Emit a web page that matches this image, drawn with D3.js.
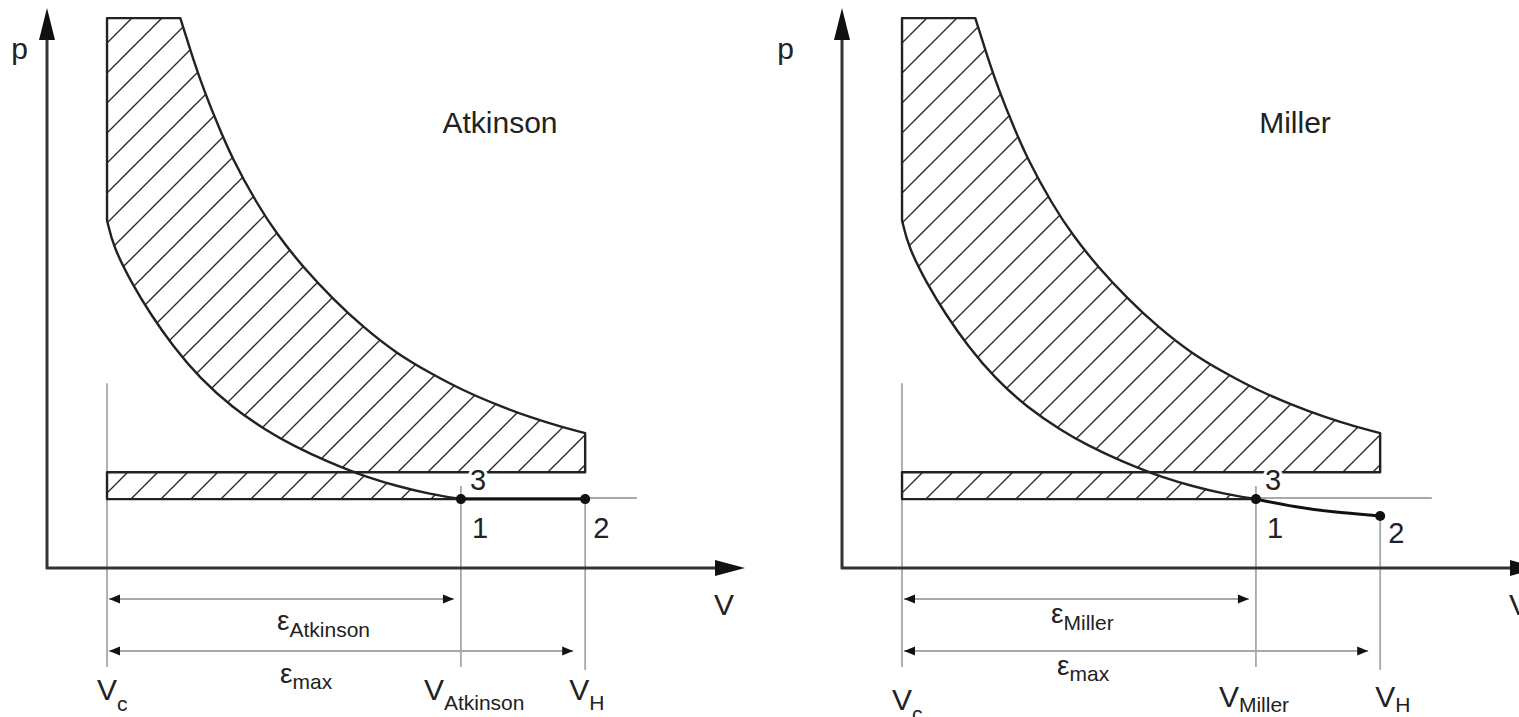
<!DOCTYPE html>
<html>
<head>
<meta charset="utf-8">
<script src="https://cdn.jsdelivr.net/npm/d3@7"></script>
<style>
  body { margin: 0; background: #fff; }
  svg { display: block; }
  text { font-family: "Liberation Sans", Arial, sans-serif; fill: #222; }
</style>
</head>
<body>
<svg id="chart"></svg>
<script>
// Atkinson vs Miller - p-V diagram (schematic)

const width = 1519;
const height = 717;

// the two cycles, one panel each
const cycles = ["Atkinson", "Miller"];

// volumes on the V axis (0-100 = full axis) and pressures on the p axis (0-100)
const vC = 8.6;        // clearance volume
const vClose = 59.3;   // V_Atkinson / V_Miller (point 1)
const vH = 77.1;       // V_H (point 2)
const pTop = 98.2;     // top of the combustion part
const pStrip = 17.1;   // top of the gas exchange strip
const pAmbient = 12.5; // thin ambient line
const vAmbientEnd = 84.5;

// compression line, from V_c down to point 1
const compression = [
  [8.6, 62.1], [9.5, 57.3], [12.3, 50.5], [14.8, 45.4], [18.1, 39.5],
  [21.9, 33.9], [26.6, 28.6], [31.5, 24.5], [35.2, 21.9], [40.5, 18.8],
  [45.3, 16.5], [50.1, 14.6], [54.9, 13.2], [59.3, 12.3]
];

// expansion line, from the top corner down to V_H
const expansion = [
  [19.1, 98.2], [20.5, 92.6], [21.9, 87.3], [24.1, 80.2], [26.6, 72.9],
  [30.1, 65.0], [33.0, 59.5], [36.7, 53.7], [41.0, 48.0], [45.3, 43.0],
  [50.1, 38.3], [54.9, 34.8], [59.6, 31.7], [64.5, 29.1], [69.2, 26.9],
  [73.9, 25.1], [77.1, 24.1]
];

// intake line 1 -> 2 for each cycle
const intakeAtkinson = [[59.3, 12.3], [77.1, 12.3]];
const intakeMiller = [[59.3, 12.3], [64.9, 10.9], [70.1, 10.0], [77.1, 9.3]];
const intakes = [intakeAtkinson, intakeMiller];

// placement of the texts for each panel (layout only)
const layout = [
  { dx: 0, pX: 19.5, vDy: 0, subDy: 10, vHdx: -16, epsX: 277, epsY: 630, maxX: 280, maxY: 683 },
  { dx: 795, pX: -9.5, vDy: 7, subDy: 5, vHdx: -5, epsX: 256, epsY: 623, maxX: 262, maxY: 675 }
];

const svg = d3.select("#chart")
  .attr("width", width)
  .attr("height", height)
  .attr("viewBox", [0, 0, width, height]);

// hatch pattern
const defs = svg.append("defs");
defs.append("pattern")
  .attr("id", "hatch")
  .attr("patternUnits", "userSpaceOnUse")
  .attr("width", 30)
  .attr("height", 30)
  .append("path")
  .attr("d", "M0,30 L30,0 M-4,4 L4,-4 M26,34 L34,26")
  .attr("stroke", "#2a2a2a")
  .attr("stroke-width", 1.4);

const x = d3.scaleLinear().domain([0, 100]).range([47, 745]);
const y = d3.scaleLinear().domain([0, 100]).range([568, 8]);

// smooth curve through the read points
const line = d3.line()
  .x(d => x(d[0]))
  .y(d => y(d[1]))
  .curve(d3.curveBasis);
const seg = pts => line(pts).replace(/^M/, "L");

// where the compression line crosses the top of the strip
function crossing(pts, p) {
  for (let i = 1; i < pts.length; i++) {
    const a = pts[i - 1], b = pts[i];
    if (a[1] >= p && b[1] <= p) {
      const t = (a[1] - p) / (a[1] - b[1]);
      return [a[0] + t * (b[0] - a[0]), p];
    }
  }
}
const cross = crossing(compression, pStrip);
const compUpper = compression.filter(d => d[1] > pStrip).concat([cross]);
const compLower = [cross].concat(compression.filter(d => d[1] < pStrip));

const upperPath = `M${x(vC)},${y(pTop)}` + seg(expansion) +
  `L${x(vH)},${y(pStrip)}` + seg(compUpper.slice().reverse()) + "Z";
const lowerPath = `M${x(vC)},${y(pStrip)}` + seg(compLower) +
  `L${x(vC)},${y(compLower[compLower.length - 1][1])}` + "Z";

const guideBottom = 667;
const gray = "#a8a8a8";

cycles.forEach((name, i) => {
  const L = layout[i];
  const g = svg.append("g").attr("transform", `translate(${L.dx},0)`);
  const intake = intakes[i];
  const p1 = intake[0], p2 = intake[intake.length - 1];

  // gray guides
  const guides = g.append("g").attr("stroke", gray).attr("stroke-width", 1.8);
  guides.append("line")
    .attr("x1", x(vC)).attr("x2", x(vC))
    .attr("y1", y(33)).attr("y2", guideBottom);
  guides.append("line")
    .attr("x1", x(vClose)).attr("x2", x(vClose))
    .attr("y1", y(p1[1]) - 13).attr("y2", guideBottom);
  guides.append("line")
    .attr("x1", x(vH)).attr("x2", x(vH))
    .attr("y1", y(p2[1])).attr("y2", guideBottom + 3);
  guides.append("line")
    .attr("x1", x(vClose) - 12).attr("x2", x(vAmbientEnd))
    .attr("y1", y(pAmbient)).attr("y2", y(pAmbient));

  // hatched areas
  g.append("path")
    .attr("d", upperPath)
    .attr("fill", "url(#hatch)")
    .attr("stroke", "#222")
    .attr("stroke-width", 2.4)
    .attr("stroke-linejoin", "round");
  g.append("path")
    .attr("d", lowerPath)
    .attr("fill", "url(#hatch)")
    .attr("stroke", "#222")
    .attr("stroke-width", 2.4)
    .attr("stroke-linejoin", "round");

  // intake line 1 -> 2
  g.append("path")
    .attr("d", line(intake))
    .attr("fill", "none")
    .attr("stroke", "#111")
    .attr("stroke-width", 3);
  g.selectAll("circle")
    .data([p1, p2])
    .join("circle")
    .attr("cx", d => x(d[0]))
    .attr("cy", d => y(d[1]))
    .attr("r", 5)
    .attr("fill", "#111");

  // axes
  const ax = g.append("g").attr("stroke", "#333").attr("stroke-width", 3);
  ax.append("line").attr("x1", x(0)).attr("x2", x(0)).attr("y1", y(0) + 1).attr("y2", y(100) + 30);
  ax.append("line").attr("x1", x(0) - 1).attr("x2", x(100) - 28).attr("y1", y(0)).attr("y2", y(0));
  g.append("path")
    .attr("d", `M${x(0)},${y(100)} L${x(0) - 8},${y(100) + 32} L${x(0) + 8},${y(100) + 32} Z`)
    .attr("fill", "#111");
  g.append("path")
    .attr("d", `M${x(100)},${y(0)} L${x(100) - 30},${y(0) - 8} L${x(100) - 30},${y(0) + 8} Z`)
    .attr("fill", "#111");

  g.append("text").attr("x", L.pX).attr("y", 59).attr("text-anchor", "middle")
    .style("font-size", "30px").text("p");
  g.append("text").attr("x", x(100) - 31).attr("y", 615)
    .style("font-size", "30px").text("V");

  // title
  g.append("text").attr("x", 500).attr("y", 133).attr("text-anchor", "middle")
    .style("font-size", "30px").text(name);

  // point numbers
  const num = (t, px, py) => g.append("text").attr("x", px).attr("y", py)
    .style("font-size", "29px")
    .attr("stroke", "#fff").attr("stroke-width", 6).attr("paint-order", "stroke")
    .text(t);
  num("3", x(vClose) + 9, 490);
  num("1", x(vClose) + 11, 538);
  num("2", x(vH) + 8, Math.max(538, y(p2[1]) + 27));

  // dimension arrows
  const arrow = (x1, x2, yy) => {
    g.append("line").attr("x1", x1).attr("x2", x2).attr("y1", yy).attr("y2", yy)
      .attr("stroke", gray).attr("stroke-width", 2);
    g.append("path").attr("d", `M${x1},${yy} L${x1 + 11},${yy - 4.5} L${x1 + 11},${yy + 4.5} Z`).attr("fill", "#111");
    g.append("path").attr("d", `M${x2},${yy} L${x2 - 11},${yy - 4.5} L${x2 - 11},${yy + 4.5} Z`).attr("fill", "#111");
  };
  arrow(x(vC) + 2, x(vClose) - 7, 599);
  arrow(x(vC) + 2, x(vH) - 12, 651);

  const sub = (px, py, main, s, mainSize, subDy) => {
    const t = g.append("text").attr("x", px).attr("y", py);
    t.append("tspan").style("font-size", mainSize + "px").text(main);
    t.append("tspan").style("font-size", "21px").attr("dy", subDy).text(s);
  };
  sub(L.epsX, L.epsY, "ε", name, 28, 7);
  sub(L.maxX, L.maxY, "ε", "max", 28, 6);

  sub(x(vC) - 10, 700 + L.vDy + (i ? 3 : 0), "V", "c", 30, 11);
  sub(x(vClose) - 37, 700 + L.vDy, "V", name, 30, L.subDy);
  sub(x(vH) + L.vHdx, 700 + L.vDy, "V", "H", 30, L.subDy);
});
</script>
</body>
</html>
